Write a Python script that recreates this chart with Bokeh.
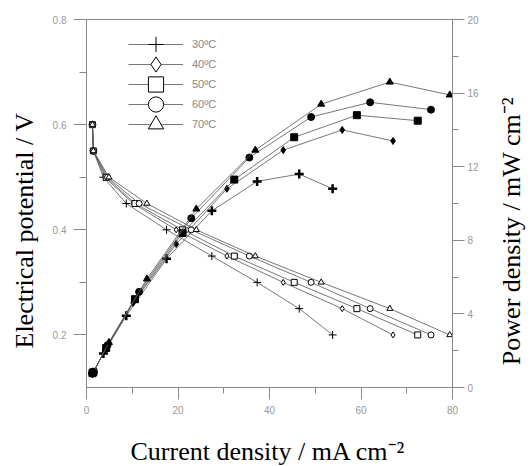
import math
from bokeh.plotting import figure
from bokeh.models import Range1d, LinearAxis, FixedTicker, Legend, LegendItem, Title, Label
from bokeh.embed import file_html
from bokeh.resources import INLINE

# ---- data ----
temps = ["30ºC", "40ºC", "50ºC", "60ºC", "70ºC"]
voltage = [0.60, 0.55, 0.50, 0.45, 0.40, 0.35, 0.30, 0.25, 0.20]

current_30 = [1.3, 1.5, 3.7, 8.7, 17.5, 27.4, 37.3, 46.5, 53.8]
current_40 = [1.3, 1.5, 4.0, 10.2, 19.6, 30.7, 43.0, 55.9, 67.0]
current_50 = [1.3, 1.5, 4.3, 10.6, 21.0, 32.3, 45.4, 59.1, 72.4]
current_60 = [1.3, 1.5, 4.6, 11.5, 22.9, 35.6, 49.1, 62.0, 75.3]
current_70 = [1.3, 1.5, 4.9, 13.2, 24.0, 36.9, 51.3, 66.3, 79.4]

power_30 = [0.78, 0.83, 1.85, 3.9, 7.0, 9.6, 11.2, 11.6, 10.8]
power_40 = [0.78, 0.83, 2.0, 4.6, 7.8, 10.8, 12.9, 14.0, 13.4]
power_50 = [0.78, 0.83, 2.15, 4.8, 8.4, 11.3, 13.6, 14.8, 14.5]
power_60 = [0.78, 0.83, 2.3, 5.2, 9.2, 12.5, 14.7, 15.5, 15.1]
power_70 = [0.78, 0.83, 2.45, 5.9, 9.7, 12.9, 15.4, 16.6, 15.9]

x_ticks = [0, 20, 40, 60, 80]
x_minor = [10, 30, 50, 70]
v_ticks = [0.2, 0.4, 0.6, 0.8]
v_minor = [0.3, 0.5, 0.7]
p_ticks = [0, 4, 8, 12, 16, 20]
p_minor = [2, 6, 10, 14, 18]

x_title = "Current density / mA cm\u207b\u00b2"
v_title = "Electrical potential / V"
p_title = "Power density / mW cm\u207b\u00b2"

currents = [current_30, current_40, current_50, current_60, current_70]
powers = [power_30, power_40, power_50, power_60, power_70]
markers = ["cross", "diamond", "square", "circle", "triangle"]

# ---- figure ----
p = figure(width=531, height=466, output_backend="svg", toolbar_location=None,
           x_range=Range1d(0, 80), y_range=Range1d(0.1, 0.8),
           min_border_left=85, min_border_right=79, min_border_top=19, min_border_bottom=79,
           background_fill_color="white", border_fill_color="white")
p.extra_y_ranges = {"power": Range1d(0, 20)}
p.xgrid.visible = False
p.ygrid.visible = False
p.outline_line_color = "#888888"

right_axis = LinearAxis(y_range_name="power")
p.add_layout(right_axis, "right")

xa = p.xaxis[0]
ya = p.yaxis[0]
xa.ticker = FixedTicker(ticks=x_ticks, minor_ticks=x_minor)
ya.ticker = FixedTicker(ticks=v_ticks, minor_ticks=v_minor)
right_axis.ticker = FixedTicker(ticks=p_ticks, minor_ticks=p_minor)

for ax in (xa, ya, right_axis):
    ax.axis_line_color = "#888888"
    ax.major_tick_line_color = "#888888"
    ax.minor_tick_line_color = "#888888"
    ax.major_tick_out = 12
    ax.major_tick_in = 0
    ax.minor_tick_out = 6
    ax.minor_tick_in = 0
    ax.major_label_text_color = "#999999"
    ax.major_label_text_font = "Liberation Sans"
    ax.major_label_text_font_size = "10px"

ya.major_tick_out = 13
ya.minor_tick_out = 7
xa.major_label_standoff = 6
ya.major_label_standoff = 7
right_axis.major_label_standoff = 3

title_font = dict(text_font="Liberation Serif", text_font_size="26px", text_color="black")

# left title, shifted toward the bottom as in the reference
p.add_layout(Title(text=v_title, align="left", offset=39, vertical_align="top",
                   standoff=18, text_font_style="normal", **title_font), "left")
# right title (reads bottom-to-top) and bottom title as labels in the side panels
p.add_layout(Label(x=93.0, y=8.5, y_range_name="power", text=p_title, angle=math.pi / 2,
                   text_align="center", text_baseline="middle", **title_font), "right")
p.add_layout(Label(x=39.7, y=-0.021, text=x_title,
                   text_align="center", text_baseline="middle", **title_font), "below")

line_col = "#555555"
for i, (lab, cur, pw, mk) in enumerate(zip(temps, currents, powers, markers)):
    # polarization curve (left axis), hollow markers
    l1 = p.line(cur, voltage, line_color=line_col, line_width=0.8)
    s1 = p.scatter(cur, voltage, marker=mk, size=6 if mk != "cross" else 8,
                   line_color="black", fill_color="white", line_width=1)
    # power density curve (right axis), filled markers
    p.line(cur, pw, line_color=line_col, line_width=0.8, y_range_name="power")
    if mk == "cross":
        p.scatter(cur, pw, marker=mk, size=9, line_color="black", line_width=2.5,
                  y_range_name="power")
    else:
        p.scatter(cur, pw, marker=mk, size=7, line_color="black", fill_color="black",
                  y_range_name="power")
    # one legend box per row so that the large legend markers can overlap rows
    row_center = 44 + 20 * i
    leg = Legend(items=[LegendItem(label=lab, renderers=[l1, s1])],
                 location=(42, 387 - (row_center + 19)),
                 glyph_width=55, glyph_height=38, label_height=38,
                 label_standoff=9, padding=0, margin=0, spacing=0,
                 border_line_color=None, background_fill_alpha=0,
                 label_text_font="Liberation Sans", label_text_font_size="11px",
                 label_text_color="#888888")
    p.add_layout(leg, "center")

open("out.html", "w").write(file_html(p, INLINE))
